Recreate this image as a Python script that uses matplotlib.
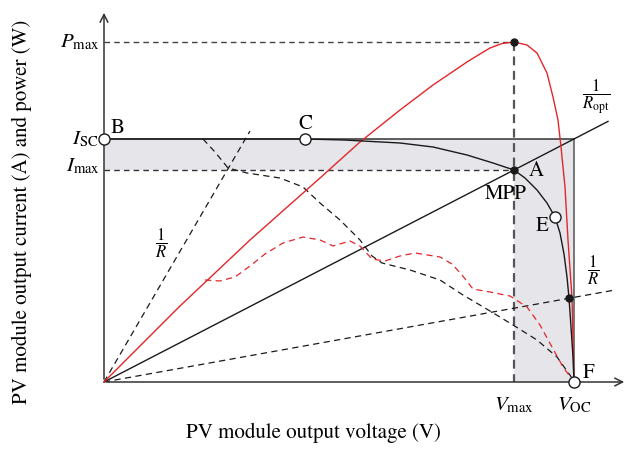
import matplotlib
matplotlib.use("Agg")
import matplotlib.pyplot as plt
import numpy as np

plt.rcParams['font.family'] = ['STIXGeneral', 'DejaVu Serif']
plt.rcParams['mathtext.fontset'] = 'stix'

# Key operating values (schematic units)
v_max, v_oc = 410, 470
i_sc, i_max, p_max = 243, 212, 340
v_c = 201
pt_e = (451, 165)
pt_r = (465, 84)

# I-V curve, full irradiance
iv_v = [0, 96, 201, 240, 296, 329, 363, 389, 410, 421, 433, 443, 451, 456, 460, 463, 465, 467, 469, 470]
iv_i = [243, 243, 243, 242, 239, 235, 227, 219, 212, 204, 192, 179, 165, 149, 128, 105, 84, 55, 25, 0]

# P-V curve, full irradiance
pv_v = [0, 76, 146, 216, 256, 296, 329, 363, 376, 386, 398, 410, 423, 433, 443, 449, 454, 457, 461,
        464, 468, 469, 470]
pv_p = [0, 76, 142, 204, 240, 272, 297, 320, 328, 334, 338.5, 340, 337, 329, 309, 285, 262, 235, 195,
        142, 84, 42, 0]

# I-V curve, partial shading
ivs_v = [99, 111, 124, 143, 176, 199, 216, 236, 256, 268, 278, 306, 336, 359, 386, 409, 433, 453, 468, 470]
ivs_i = [243, 230, 214, 209, 204, 195, 179, 162, 142, 126, 119, 112, 102, 87, 71, 57, 42, 25, 4, 0]

# P-V curve, partial shading
pvs_v = [101, 116, 131, 146, 161, 179, 199, 216, 229, 246, 256, 268, 281, 296, 311, 336, 348, 358, 369,
         386, 406, 423, 436, 448, 459, 470]
pvs_p = [102, 101, 105, 116, 128, 139, 145, 142, 136, 141, 136, 123, 121, 126, 129, 125, 118, 107, 93,
         90, 86, 75, 57, 35, 15, 0]

# Load lines: end points
ropt_end = 504
r_steep_end = (146, 251)
r_flat_end = (511, 92)

red = '#e3262b'
blk = '#1a1a1a'
fs = 15

fig = plt.figure(figsize=(6.38, 4.5), dpi=100)
ax = fig.add_axes([0, 0, 1, 1])
ax.set_xlim(-104, 534)
ax.set_ylim(-68, 382)
ax.axis('off')

# shaded L-shaped region
shade_x = [0, v_oc, v_oc, v_max, v_max, 0]
shade_y = [i_sc, i_sc, 0, 0, i_max, i_max]
ax.fill(shade_x, shade_y, color='#e6e6ea', lw=0, zorder=0)
ax.plot([0, v_oc], [i_sc, i_sc], color='#333333', lw=1.1, zorder=2)
ax.plot([v_oc, v_oc], [i_sc, 0], color='#555555', lw=1.1, zorder=2)

# axes with arrows
ax.annotate('', xy=(0, 372), xytext=(0, 0),
            arrowprops=dict(arrowstyle='->', lw=1.1, color='#333333', mutation_scale=14))
ax.annotate('', xy=(523, 0), xytext=(0, 0),
            arrowprops=dict(arrowstyle='->', lw=1.1, color='#333333', mutation_scale=14))

# guide dashed lines
ax.plot([0, v_max], [p_max, p_max], ls=(0, (4, 3)), color='#444444', lw=1.0)
ax.plot([v_max, v_max], [p_max, 0], ls=(0, (4, 2.5)), color='#555555', lw=1.6)
ax.plot([0, v_max], [i_max, i_max], ls=(0, (4, 3)), color='#333333', lw=1.0)

# load lines
ax.plot([0, ropt_end], [0, ropt_end * i_max / v_max], color=blk, lw=1.0)
ax.plot([0, r_steep_end[0]], [0, r_steep_end[1]], ls=(0, (5, 3.5)), color=blk, lw=0.9)
ax.plot([0, r_flat_end[0]], [0, r_flat_end[1]], ls=(0, (5, 3.5)), color=blk, lw=0.9)

# curves
ax.plot(ivs_v, ivs_i, ls=(0, (5, 3.5)), color=blk, lw=0.9)
ax.plot(pvs_v, pvs_p, ls=(0, (5, 3.5)), color=red, lw=0.9)
ax.plot(pv_v, pv_p, color=red, lw=1.0, zorder=3)
ax.plot(iv_v, iv_i, color=blk, lw=1.0, zorder=3)

# markers
ax.plot([v_max, v_max, pt_r[0]], [p_max, i_max, pt_r[1]], 'o', color=blk, ms=5, zorder=5)
ax.plot([0, v_c, pt_e[0], v_oc], [i_sc, i_sc, pt_e[1], 0], 'o', mfc='white', mec=blk,
        mew=1.0, ms=8, zorder=6, clip_on=False)

# labels
ax.text(-4, p_max, r'$P_{\rm max}$', ha='right', va='center', fontsize=fs)
ax.text(-6, i_sc, r'$I_{\rm SC}$', ha='right', va='center', fontsize=fs)
ax.text(-4, i_max + 4, r'$I_{\rm max}$', ha='right', va='center', fontsize=fs)
ax.text(7, 254, 'B', ha='left', va='center', fontsize=fs)
ax.text(v_c, 258, 'C', ha='center', va='center', fontsize=fs)
ax.text(432, 211, 'A', ha='center', va='center', fontsize=fs)
ax.text(402, 188, 'MPP', ha='center', va='center', fontsize=fs)
ax.text(438, 156, 'E', ha='center', va='center', fontsize=fs)
ax.text(485, 9, 'F', ha='center', va='center', fontsize=fs)
ax.text(v_max, -23, r'$V_{\rm max}$', ha='center', va='center', fontsize=fs)
ax.text(v_oc, -23, r'$V_{\rm OC}$', ha='center', va='center', fontsize=fs)
ax.text(492, 285, r'$\dfrac{1}{R_{\rm opt}}$', ha='center', va='center', fontsize=12)
ax.text(57, 139, r'$\dfrac{1}{R}$', ha='center', va='center', fontsize=12)
ax.text(489, 112, r'$\dfrac{1}{R}$', ha='center', va='center', fontsize=12)

ax.text(209, -51, 'PV module output voltage (V)', ha='center', va='center', fontsize=fs)
ax.text(-82, 170, 'PV module output current (A) and power (W)', ha='center', va='center',
        rotation=90, fontsize=fs)

fig.savefig('out.png', dpi=100)
